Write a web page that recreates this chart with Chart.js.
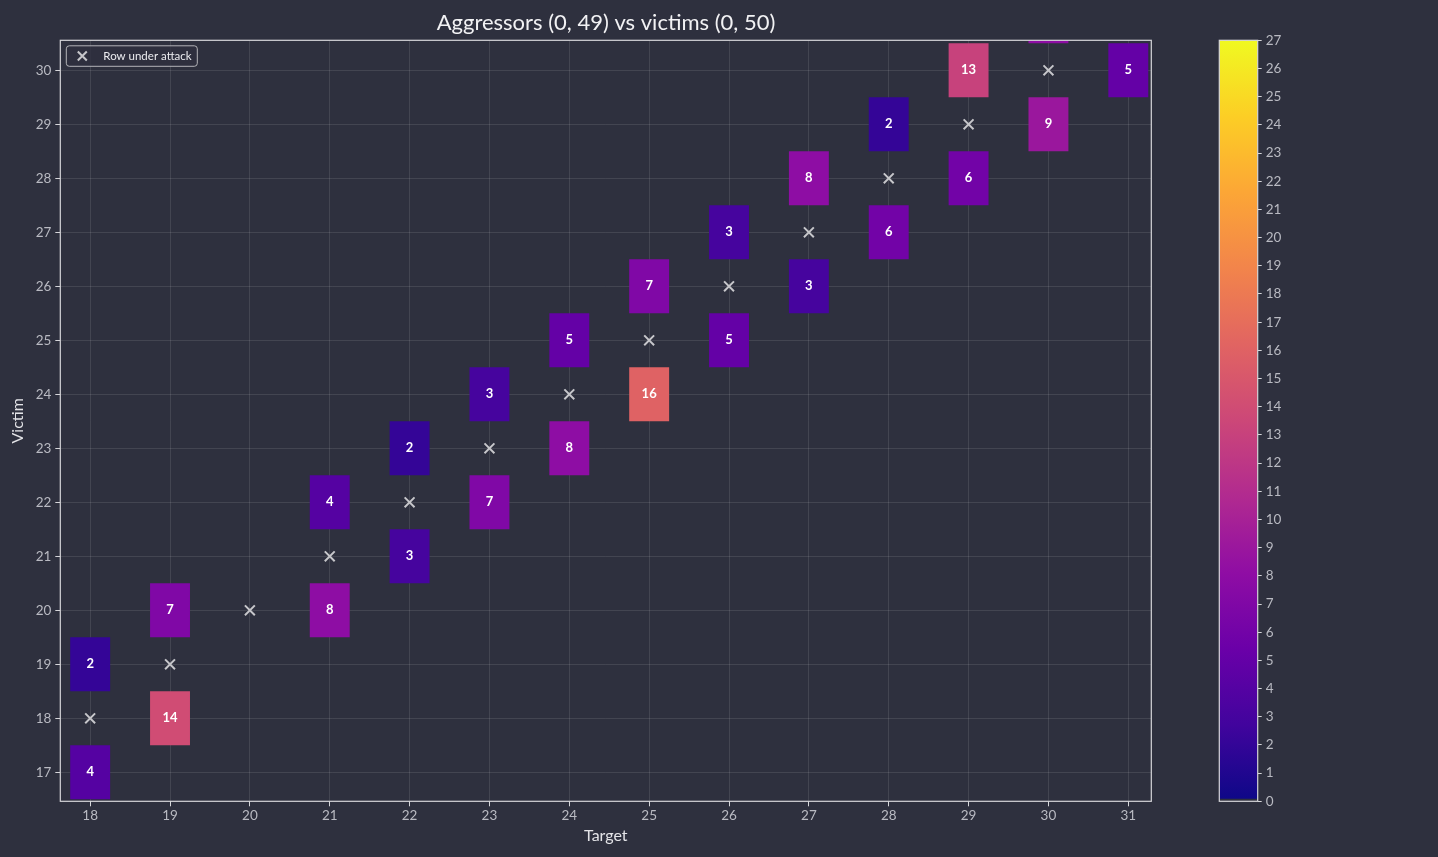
<!DOCTYPE html>
<html>
<head>
<meta charset="utf-8">
<script src="https://cdn.jsdelivr.net/npm/chart.js@4.4.1/dist/chart.umd.min.js"></script>
<style>
html,body{margin:0;padding:0;background:#2e303e;width:1438px;height:857px;overflow:hidden;}
canvas{position:absolute;top:0;}
#main{left:0;}
#cbar{left:1200px;}
</style>
</head>
<body>
<canvas id="main" width="1212" height="857"></canvas>
<canvas id="cbar" width="238" height="857"></canvas>
<script>
// ---- data ----
const targets = [18, 18, 19, 19, 21, 21, 22, 22, 23, 23, 24, 24, 25, 25, 26, 26, 27, 27, 28, 28, 29, 29, 30, 30, 31];
const victims = [19, 17, 20, 18, 22, 20, 23, 21, 24, 22, 25, 23, 26, 24, 27, 25, 28, 26, 29, 27, 30, 28, 31, 29, 30];
const counts  = [2, 4, 7, 14, 4, 8, 2, 3, 3, 7, 5, 8, 7, 16, 3, 5, 8, 3, 2, 6, 13, 6, 8, 9, 5];
const attackedRows = [18, 19, 20, 21, 22, 23, 24, 25, 26, 27, 28, 29, 30, 31];
const xTicks = [18, 19, 20, 21, 22, 23, 24, 25, 26, 27, 28, 29, 30, 31];
const yTicks = [17, 18, 19, 20, 21, 22, 23, 24, 25, 26, 27, 28, 29, 30];
const cbTicks = [0, 1, 2, 3, 4, 5, 6, 7, 8, 9, 10, 11, 12, 13, 14, 15, 16, 17, 18, 19, 20, 21, 22, 23, 24, 25, 26, 27];
const cMin = 0, cMax = 27;
const titleText = 'Aggressors (0, 49) vs victims (0, 50)';
const legendText = 'Row under attack';

// ---- style ----
const TICK_COL = '#b9bac2';
const GRID_COL = 'rgba(255,255,255,0.10)';
const FRAME_COL = '#d6d6da';
const CROSS_COL = '#c6c6ca';
const plasmaStops = ['#0d0887','#41049d','#6a00a8','#8f0da4','#b12a90','#cc4778','#e16462','#f2844b','#fca636','#fcce25','#f0f921'];
function hex2rgb(h){return [parseInt(h.slice(1,3),16),parseInt(h.slice(3,5),16),parseInt(h.slice(5,7),16)];}
function plasma(t){
  t = Math.max(0, Math.min(1, t));
  const n = plasmaStops.length - 1;
  const p = t * n, i = Math.min(n - 1, Math.floor(p)), f = p - i;
  const a = hex2rgb(plasmaStops[i]), b = hex2rgb(plasmaStops[i+1]);
  return 'rgb(' + a.map((v,k)=>Math.round(v + (b[k]-v)*f)).join(',') + ')';
}

const overlay = {
  id: 'overlay',
  afterDraw(chart) {
    const ctx = chart.ctx, a = chart.chartArea;
    // cell labels
    const meta = chart.getDatasetMeta(0);
    ctx.save();
    ctx.fillStyle = '#ffffff';
    ctx.font = 'bold 13px Lato';
    ctx.textAlign = 'center';
    ctx.textBaseline = 'middle';
    meta.data.forEach((el, i) => {
      const c = el.getCenterPoint();
      if (c.x > a.left && c.x < a.right && c.y > a.top && c.y < a.bottom) {
        ctx.fillText(String(counts[i]), c.x, c.y - 0.5);
      }
    });
    // frame
    ctx.strokeStyle = FRAME_COL;
    ctx.lineWidth = 1.2;
    ctx.strokeRect(a.left, a.top, a.right - a.left, a.bottom - a.top);
    // legend
    const lx = a.left + 6, ly = a.top + 5.5, lw = 131, lh = 20.5, r = 3;
    ctx.beginPath();
    ctx.moveTo(lx + r, ly);
    ctx.lineTo(lx + lw - r, ly); ctx.quadraticCurveTo(lx + lw, ly, lx + lw, ly + r);
    ctx.lineTo(lx + lw, ly + lh - r); ctx.quadraticCurveTo(lx + lw, ly + lh, lx + lw - r, ly + lh);
    ctx.lineTo(lx + r, ly + lh); ctx.quadraticCurveTo(lx, ly + lh, lx, ly + lh - r);
    ctx.lineTo(lx, ly + r); ctx.quadraticCurveTo(lx, ly, lx + r, ly);
    ctx.closePath();
    ctx.fillStyle = 'rgba(46,48,62,0.8)';
    ctx.fill();
    ctx.strokeStyle = '#b4b4b8';
    ctx.lineWidth = 1;
    ctx.stroke();
    ctx.strokeStyle = CROSS_COL;
    ctx.lineWidth = 2;
    const cx = lx + 16, cy = ly + lh / 2, d = 4.5;
    ctx.beginPath();
    ctx.moveTo(cx - d, cy - d); ctx.lineTo(cx + d, cy + d);
    ctx.moveTo(cx - d, cy + d); ctx.lineTo(cx + d, cy - d);
    ctx.stroke();
    ctx.fillStyle = '#ececf0';
    ctx.font = '11.5px Lato';
    ctx.textAlign = 'left';
    ctx.textBaseline = 'middle';
    ctx.fillText(legendText, lx + 37, cy);
    ctx.restore();
  }
};

new Chart(document.getElementById('main'), {
  type: 'bar',
  data: {
    datasets: [
      {
        type: 'bar',
        label: 'count',
        xAxisID: 'x', yAxisID: 'y',
        data: targets.map((t, i) => ({x: t, y: [victims[i] - 0.5, victims[i] + 0.5]})),
        backgroundColor: counts.map(c => plasma((c - cMin) / (cMax - cMin))),
        borderWidth: 0,
        categoryPercentage: 0.5,
        barPercentage: 1.0,
        clip: 0,
        order: 2
      },
      {
        type: 'scatter',
        label: legendText,
        xAxisID: 'x', yAxisID: 'y',
        data: attackedRows.map(r => ({x: r, y: r})),
        pointStyle: 'crossRot',
        pointRadius: 7,
        pointHoverRadius: 7,
        pointBorderWidth: 2,
        borderColor: CROSS_COL,
        backgroundColor: CROSS_COL,
        clip: 0,
        order: 1
      }
    ]
  },
  options: {
    responsive: false,
    animation: false,
    events: [],
    layout: {padding: 0},
    plugins: {
      legend: {display: false},
      tooltip: {enabled: false},
      title: {
        display: true,
        text: titleText,
        color: '#f2f2f4',
        font: {family: 'Lato', size: 22, weight: 'normal', lineHeight: 1.2},
        padding: {top: 10, bottom: 3.9}
      }
    },
    scales: {
      x: {
        type: 'linear',
        position: 'bottom',
        min: 17.626, max: 31.288,
        offset: false,
        z: 1,
        afterBuildTicks: s => { s.ticks = xTicks.map(v => ({value: v})); },
        afterFit: s => { s.height = 55.7; },
        grid: {color: GRID_COL, offset: false, tickLength: 5, tickColor: FRAME_COL, tickWidth: 1},
        border: {display: false},
        ticks: {color: TICK_COL, font: {family: 'Lato', size: 13.5}, padding: 1, maxRotation: 0, autoSkip: false},
        title: {display: true, text: 'Target', color: '#e4e4e8', font: {family: 'Lato', size: 16}, padding: {top: 0, bottom: 12}}
      },
      y: {
        type: 'linear',
        position: 'left',
        min: 16.463, max: 30.556,
        beginAtZero: false,
        z: 1,
        afterBuildTicks: s => { s.ticks = yTicks.map(v => ({value: v})); },
        afterFit: s => { s.width = 60.3; },
        grid: {color: GRID_COL, tickLength: 5, tickColor: FRAME_COL, tickWidth: 1},
        border: {display: false},
        ticks: {color: TICK_COL, font: {family: 'Lato', size: 13.5}, padding: 4, autoSkip: false},
        title: {display: true, text: 'Victim', color: '#e4e4e8', font: {family: 'Lato', size: 16}, padding: {top: 8.4, bottom: 0}}
      },
      yr: {
        type: 'linear',
        position: 'right',
        display: true,
        grid: {display: false, drawTicks: false},
        border: {display: false},
        ticks: {display: false},
        afterFit: s => { s.width = 60.7; }
      }
    }
  },
  plugins: [overlay]
});

const cbFrame = {
  id: 'cbFrame',
  afterDraw(chart) {
    const ctx = chart.ctx, a = chart.chartArea;
    ctx.save();
    ctx.strokeStyle = FRAME_COL;
    ctx.lineWidth = 1.2;
    ctx.strokeRect(a.left, a.top, a.right - a.left, a.bottom - a.top);
    ctx.restore();
  }
};

new Chart(document.getElementById('cbar'), {
  type: 'bar',
  data: {
    labels: ['colorbar'],
    datasets: [{
      data: [[cMin + 0.1, cMax]],
      backgroundColor: (c) => {
        const a = c.chart.chartArea;
        if (!a) return plasmaStops[0];
        const g = c.chart.ctx.createLinearGradient(0, a.bottom, 0, a.top);
        plasmaStops.forEach((col, i) => g.addColorStop(i / (plasmaStops.length - 1), col));
        return g;
      },
      borderWidth: 0,
      categoryPercentage: 1,
      barPercentage: 1
    }]
  },
  options: {
    responsive: false,
    animation: false,
    events: [],
    layout: {padding: {left: 19.3, top: 40.3, bottom: 55.7, right: 0}},
    plugins: {legend: {display: false}, tooltip: {enabled: false}},
    scales: {
      x: {display: false},
      y: {
        position: 'right',
        min: cMin, max: cMax,
        afterBuildTicks: s => { s.ticks = cbTicks.map(v => ({value: v})); },
        afterFit: s => { s.width = 180.3; },
        grid: {display: true, drawOnChartArea: false, tickLength: 4, tickColor: FRAME_COL},
        border: {display: false},
        ticks: {color: TICK_COL, font: {family: 'Lato', size: 13.5}, padding: 4, autoSkip: false}
      }
    }
  },
  plugins: [cbFrame]
});
</script>
</body>
</html>
